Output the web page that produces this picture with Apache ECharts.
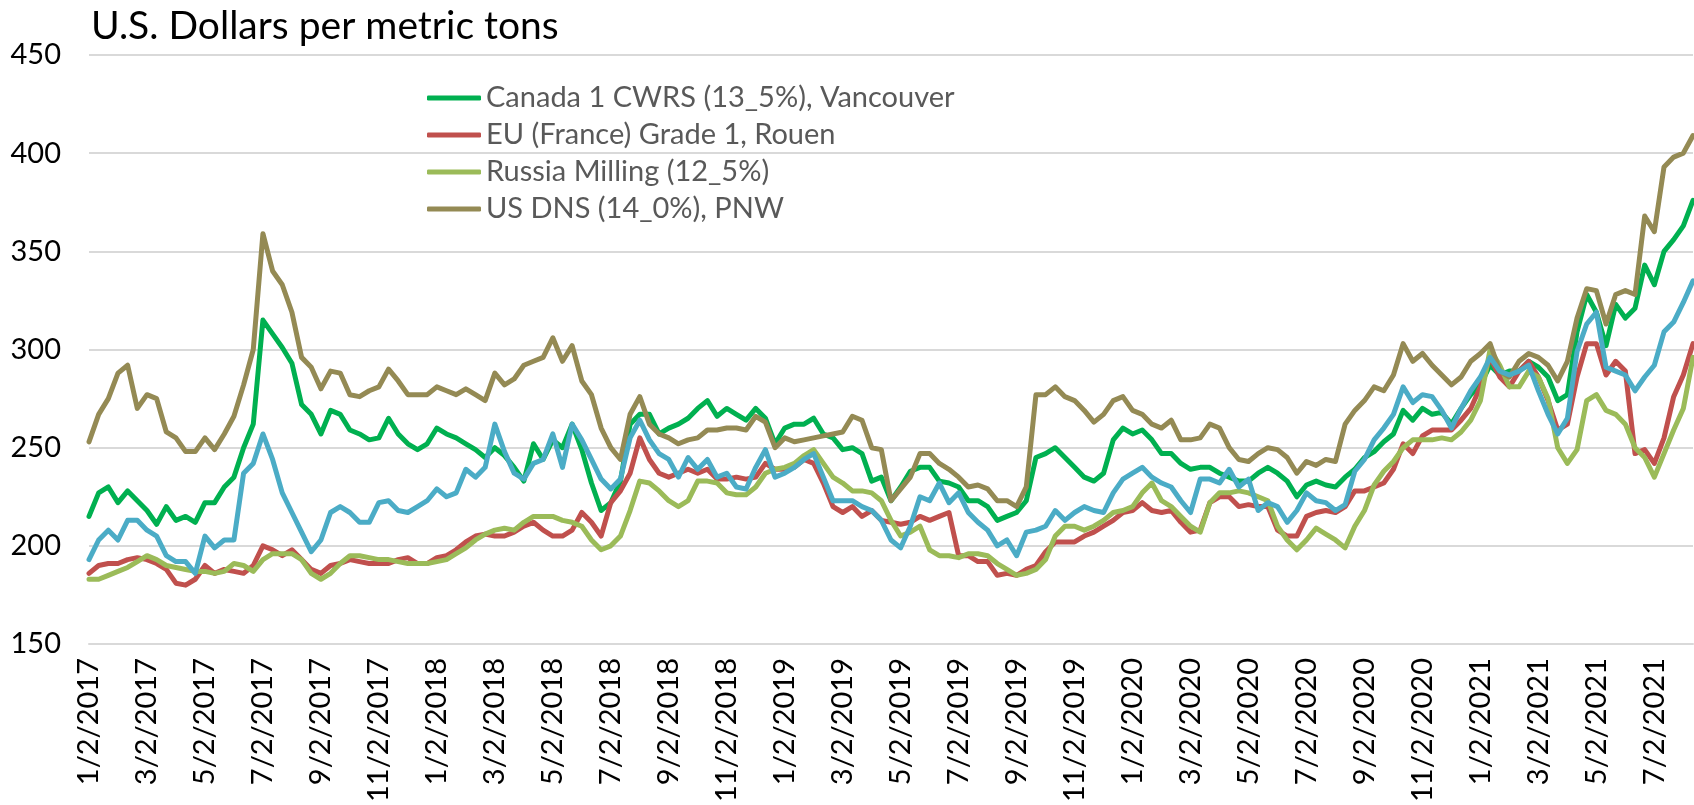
<!DOCTYPE html>
<html>
<head>
<meta charset="utf-8">
<script src="https://cdn.jsdelivr.net/npm/echarts@6/dist/echarts.min.js"></script>
<style>
  html, body { margin: 0; padding: 0; background: #fff; }
  #chart { width: 1694px; height: 805px; }
</style>
</head>
<body>
<div id="chart"></div>
<script>
// sample days inside each month (x categories), 1/2/2017 .. 8/12/2021
var sampleDays = [2, 12, 22];
var startYear = 2017, endYear = 2021, endMonth = 8, endDay = 12;

var legendNames = [
  'Canada 1 CWRS (13_5%), Vancouver',
  'EU (France) Grade 1, Rouen',
  'Russia Milling (12_5%)',
  'US DNS (14_0%), PNW'
];

var canada = [215,227,230,222,228,223,218,211,220,213,215,212,222,222,230,235,250,262,315,308,
  301,293,272,267,257,269,267,259,257,254,255,265,257,252,249,252,260,257,255,252,
  249,245,250,246,240,233,252,244,254,250,262,249,232,218,222,233,262,267,267,257,
  260,262,265,270,274,266,270,267,264,270,265,252,260,262,262,265,257,255,249,250,
  247,233,235,223,230,238,240,240,233,232,230,223,223,220,213,215,217,223,245,247,
  250,245,240,235,233,237,254,260,257,259,254,247,247,242,239,240,240,237,235,233,
  233,237,240,237,233,225,231,233,231,230,235,239,245,248,253,257,269,264,270,267,
  268,262,270,277,282,292,287,289,289,294,291,286,274,277,309,328,319,302,323,316,
  321,343,333,350,356,363,376];

var eu = [186,190,191,191,193,194,193,191,188,181,180,183,190,186,188,187,186,190,200,198,
  195,198,193,188,186,190,191,193,192,191,191,191,193,194,191,191,194,195,198,202,
  205,206,205,205,207,210,212,208,205,205,208,217,212,205,222,228,237,255,244,237,
  235,237,239,237,239,234,234,235,234,235,242,239,239,240,244,242,232,220,217,220,
  215,218,213,212,211,212,215,213,215,217,195,195,192,192,185,186,185,188,190,197,
  202,202,202,205,207,210,213,217,218,222,218,217,218,212,207,208,222,225,225,220,
  221,220,220,208,205,205,215,217,218,217,220,228,228,230,232,239,252,247,256,259,
  259,259,264,270,281,296,286,281,289,294,286,274,259,262,286,303,303,287,294,289,
  247,249,242,255,276,287,303];

var russia = [183,183,185,187,189,192,195,193,190,189,188,187,187,186,187,191,190,187,193,196,
  196,196,193,186,183,186,191,195,195,194,193,193,192,191,191,191,192,193,196,199,
  203,206,208,209,208,212,215,215,215,213,212,210,203,198,200,205,218,233,232,228,
  223,220,223,233,233,232,227,226,226,230,237,239,240,242,246,249,242,235,232,228,
  228,227,223,213,205,207,210,198,195,195,194,196,196,195,191,188,185,186,188,193,
  205,210,210,208,210,213,217,218,220,227,232,223,220,215,210,207,222,227,227,228,
  227,225,223,210,203,198,203,209,206,203,199,210,218,231,238,243,250,254,254,254,
  255,254,258,264,274,300,292,281,281,289,286,275,250,242,249,274,277,269,267,262,
  250,245,235,247,259,270,296];

var usdns = [253,267,275,288,292,270,277,275,258,255,248,248,255,249,257,266,282,300,359,340,
  333,319,296,291,280,289,288,277,276,279,281,290,284,277,277,277,281,279,277,280,
  277,274,288,282,285,292,294,296,306,294,302,284,277,260,250,244,267,276,262,257,
  255,252,254,255,259,259,260,260,259,266,263,250,255,253,254,255,256,257,258,266,
  264,250,249,223,229,235,247,247,242,239,235,230,231,229,223,223,220,230,277,277,
  281,276,274,269,263,267,274,276,269,267,262,260,264,254,254,255,262,260,250,244,
  243,247,250,249,245,237,243,241,244,243,262,269,274,281,279,287,303,294,298,292,
  287,282,286,294,298,303,289,286,294,298,296,292,284,294,316,331,330,313,328,330,
  328,368,360,393,398,400,409];

// fifth series, drawn in blue, has no legend entry in the original
var unlabeled = [193,203,208,203,213,213,208,205,195,192,192,186,205,199,203,203,237,242,257,244,
  227,217,207,197,203,217,220,217,212,212,222,223,218,217,220,223,229,225,227,239,
  235,240,262,248,237,234,242,244,257,240,262,254,244,234,229,234,255,264,254,247,
  244,235,245,239,244,235,237,230,229,240,249,235,237,240,244,247,235,223,223,223,
  220,218,213,203,199,210,225,223,232,222,227,217,212,208,200,203,195,207,208,210,
  218,213,217,220,218,217,227,234,237,240,235,232,230,223,217,234,234,232,239,230,
  234,218,222,220,212,218,227,223,222,218,221,238,244,254,260,267,281,273,277,276,
  269,260,270,279,286,296,289,287,289,292,279,267,257,265,299,313,319,291,289,287,
  279,286,292,309,314,324,335];

var dates = [];
for (var y = startYear; y <= endYear; y++) {
  for (var m = 1; m <= 12; m++) {
    for (var k = 0; k < sampleDays.length; k++) {
      if (y === endYear && (m > endMonth || (m === endMonth && sampleDays[k] > endDay))) continue;
      dates.push(m + '/' + sampleDays[k] + '/' + y);
    }
  }
}

var chart = echarts.init(document.getElementById('chart'));

function lineSeries(name, data, color) {
  return {
    name: name,
    type: 'line',
    data: data,
    showSymbol: false,
    symbol: 'none',
    lineStyle: { color: color, width: 5, cap: 'round', join: 'round' },
    itemStyle: { color: color }
  };
}

var fontFamily = 'Lato, "Liberation Sans", sans-serif';

var option = {
  animation: false,
  backgroundColor: '#fff',
  title: {
    text: 'U.S. Dollars per metric tons',
    left: 86,
    top: 2,
    textStyle: { fontFamily: fontFamily, fontSize: 39, fontWeight: 'normal', color: '#000' }
  },
  legend: {
    data: legendNames,
    orient: 'vertical',
    left: 422,
    top: 77,
    itemWidth: 54,
    itemHeight: 5,
    itemGap: 5,
    icon: 'roundRect',
    textStyle: { fontFamily: fontFamily, fontSize: 29, color: '#595959', lineHeight: 32 }
  },
  grid: { left: 89, right: 1, top: 55, bottom: 157 },
  xAxis: {
    type: 'category',
    data: dates,
    boundaryGap: false,
    axisLine: { show: true, lineStyle: { color: '#d9d9d9', width: 2 } },
    axisTick: { show: false },
    axisLabel: {
      interval: 5,
      rotate: 90,
      margin: 14,
      fontFamily: fontFamily,
      fontSize: 29,
      color: '#000'
    },
    splitLine: { show: false }
  },
  yAxis: {
    type: 'value',
    min: 150,
    max: 450,
    interval: 50,
    axisLine: { show: false },
    axisTick: { show: false },
    axisLabel: { margin: 28, fontFamily: fontFamily, fontSize: 29, color: '#000' },
    splitLine: { lineStyle: { color: '#d9d9d9', width: 2 } }
  },
  series: [
    lineSeries(legendNames[0], canada, '#00B050'),
    lineSeries(legendNames[1], eu, '#C0504D'),
    lineSeries(legendNames[2], russia, '#9BBB59'),
    lineSeries(legendNames[3], usdns, '#948A54'),
    lineSeries('Other', unlabeled, '#4BACC6')
  ]
};

chart.setOption(option);
</script>
</body>
</html>
